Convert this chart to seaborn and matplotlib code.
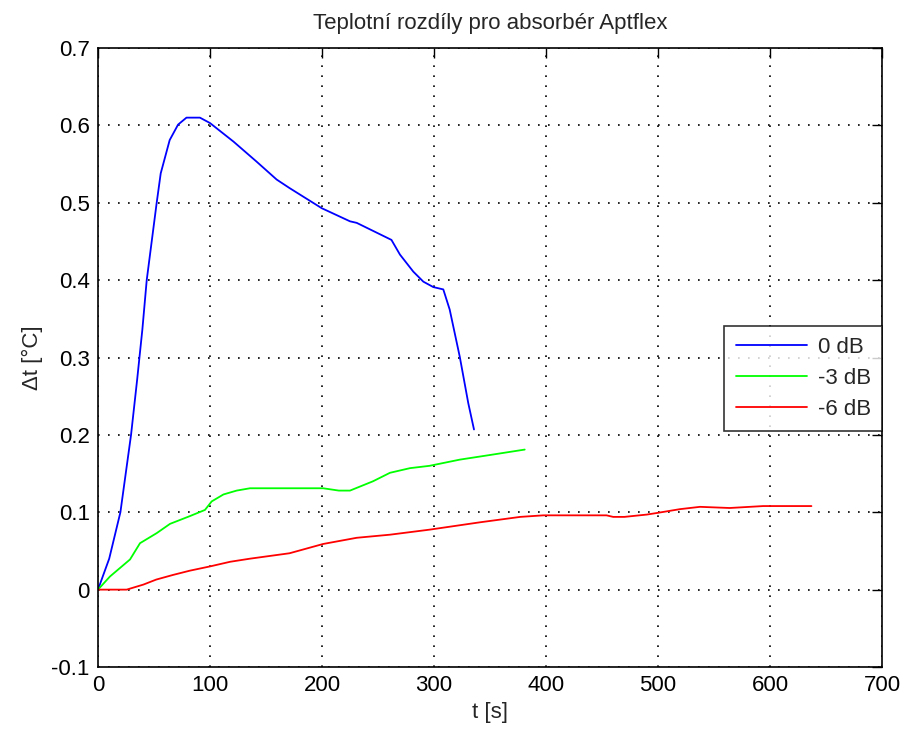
import matplotlib
matplotlib.use("Agg")
import matplotlib.pyplot as plt
import seaborn as sns
import pandas as pd
from matplotlib import font_manager

# ---- data ----
t_0db = [0, 10, 20, 29.5, 35, 37, 39.6, 43.5, 52.4, 56, 64, 71.5, 79, 91, 100, 121,
         141.7, 159.5, 171, 199.7, 225, 231, 262, 269.6, 281.5, 290.5, 299.4, 308.3,
         314, 323, 330.6, 335.7]
v_0db = [0, 0.04, 0.10, 0.20, 0.272, 0.30, 0.336, 0.40, 0.50, 0.538, 0.581, 0.601,
         0.610, 0.610, 0.603, 0.579, 0.553, 0.530, 0.519, 0.493, 0.476, 0.474, 0.452,
         0.433, 0.411, 0.398, 0.391, 0.388, 0.362, 0.301, 0.241, 0.207]

t_3db = [0, 10.7, 28.6, 37.5, 52.4, 64.3, 82, 95.5, 101.5, 112, 123.8, 135.7, 160,
         201, 215, 225, 245.5, 260.7, 278.6, 296, 323, 350, 381]
v_3db = [0, 0.017, 0.039, 0.060, 0.073, 0.085, 0.095, 0.103, 0.114, 0.123, 0.128,
         0.131, 0.131, 0.131, 0.128, 0.128, 0.140, 0.151, 0.157, 0.160, 0.168, 0.174,
         0.181]

t_6db = [0, 25.6, 40.5, 52, 67, 82, 100, 118, 135.7, 171, 201, 231, 260.7, 296, 341,
         377, 397.6, 454, 460, 470, 490, 498.8, 519.6, 537.5, 564, 594, 637]
v_6db = [0, 0, 0.0065, 0.013, 0.019, 0.0245, 0.030, 0.036, 0.040, 0.047, 0.059, 0.067,
         0.071, 0.0775, 0.087, 0.094, 0.096, 0.096, 0.094, 0.094, 0.097, 0.099, 0.104,
         0.107, 0.1055, 0.108, 0.108]

series_names = ["0 dB", "-3 dB", "-6 dB"]
series_colors = ["#0000ff", "#00ff00", "#ff0000"]
x_ticks = [0, 100, 200, 300, 400, 500, 600, 700]
y_ticks = [-0.1, 0, 0.1, 0.2, 0.3, 0.4, 0.5, 0.6, 0.7]
y_tick_labels = ["-0.1", "0", "0.1", "0.2", "0.3", "0.4", "0.5", "0.6", "0.7"]
title = "Teplotní rozdíly pro absorbér Aptflex"
xlabel = "t [s]"
ylabel = "Δt [°C]"

frames = []
for name, t, v in zip(series_names, [t_0db, t_3db, t_6db], [v_0db, v_3db, v_6db]):
    frames.append(pd.DataFrame({"t": t, "v": v, "series": name}))
df = pd.concat(frames, ignore_index=True)

sns.set_style("white")
avail = {f.name for f in font_manager.fontManager.ttflist}
fam = [f for f in ["Liberation Sans Narrow", "Liberation Sans", "DejaVu Sans"] if f in avail]
plt.rcParams["font.family"] = fam

fig = plt.figure(figsize=(9.06, 7.33), dpi=100)
ax = fig.add_axes([98 / 906, 1 - 667 / 733, (882 - 98) / 906, (667 - 48) / 733])

sns.lineplot(data=df, x="t", y="v", hue="series", hue_order=series_names,
             palette=series_colors, linewidth=1.3, ax=ax, sort=False, estimator=None)

ax.set_xlim(0, 700)
ax.set_ylim(-0.1, 0.7)
ax.set_xticks(x_ticks)
ax.set_yticks(y_ticks)
ax.set_yticklabels(y_tick_labels)
ax.grid(True, color="black", linestyle=(0, (1, 5)), linewidth=1.2)
ax.tick_params(direction="in", length=7, width=1, top=True, right=True,
               labelsize=16, colors="black", pad=6)
for sp in ax.spines.values():
    sp.set_color("black")
    sp.set_linewidth(1.2)
    sp.set_visible(True)

ax.set_title(title, fontsize=16, pad=14)
ax.set_xlabel(xlabel, fontsize=16, labelpad=4)
ax.set_ylabel(ylabel, fontsize=16, labelpad=6)

leg = ax.legend(loc="upper right", bbox_to_anchor=(1.0, (667 - 326) / 619),
                fontsize=16, frameon=True, fancybox=False, edgecolor="black",
                handlelength=3.2, handletextpad=0.5, borderaxespad=0,
                labelspacing=0.45, borderpad=0.5)
leg.get_frame().set_linewidth(1.2)
leg.set_title(None)

fig.savefig("out.png", dpi=100, facecolor="white")
